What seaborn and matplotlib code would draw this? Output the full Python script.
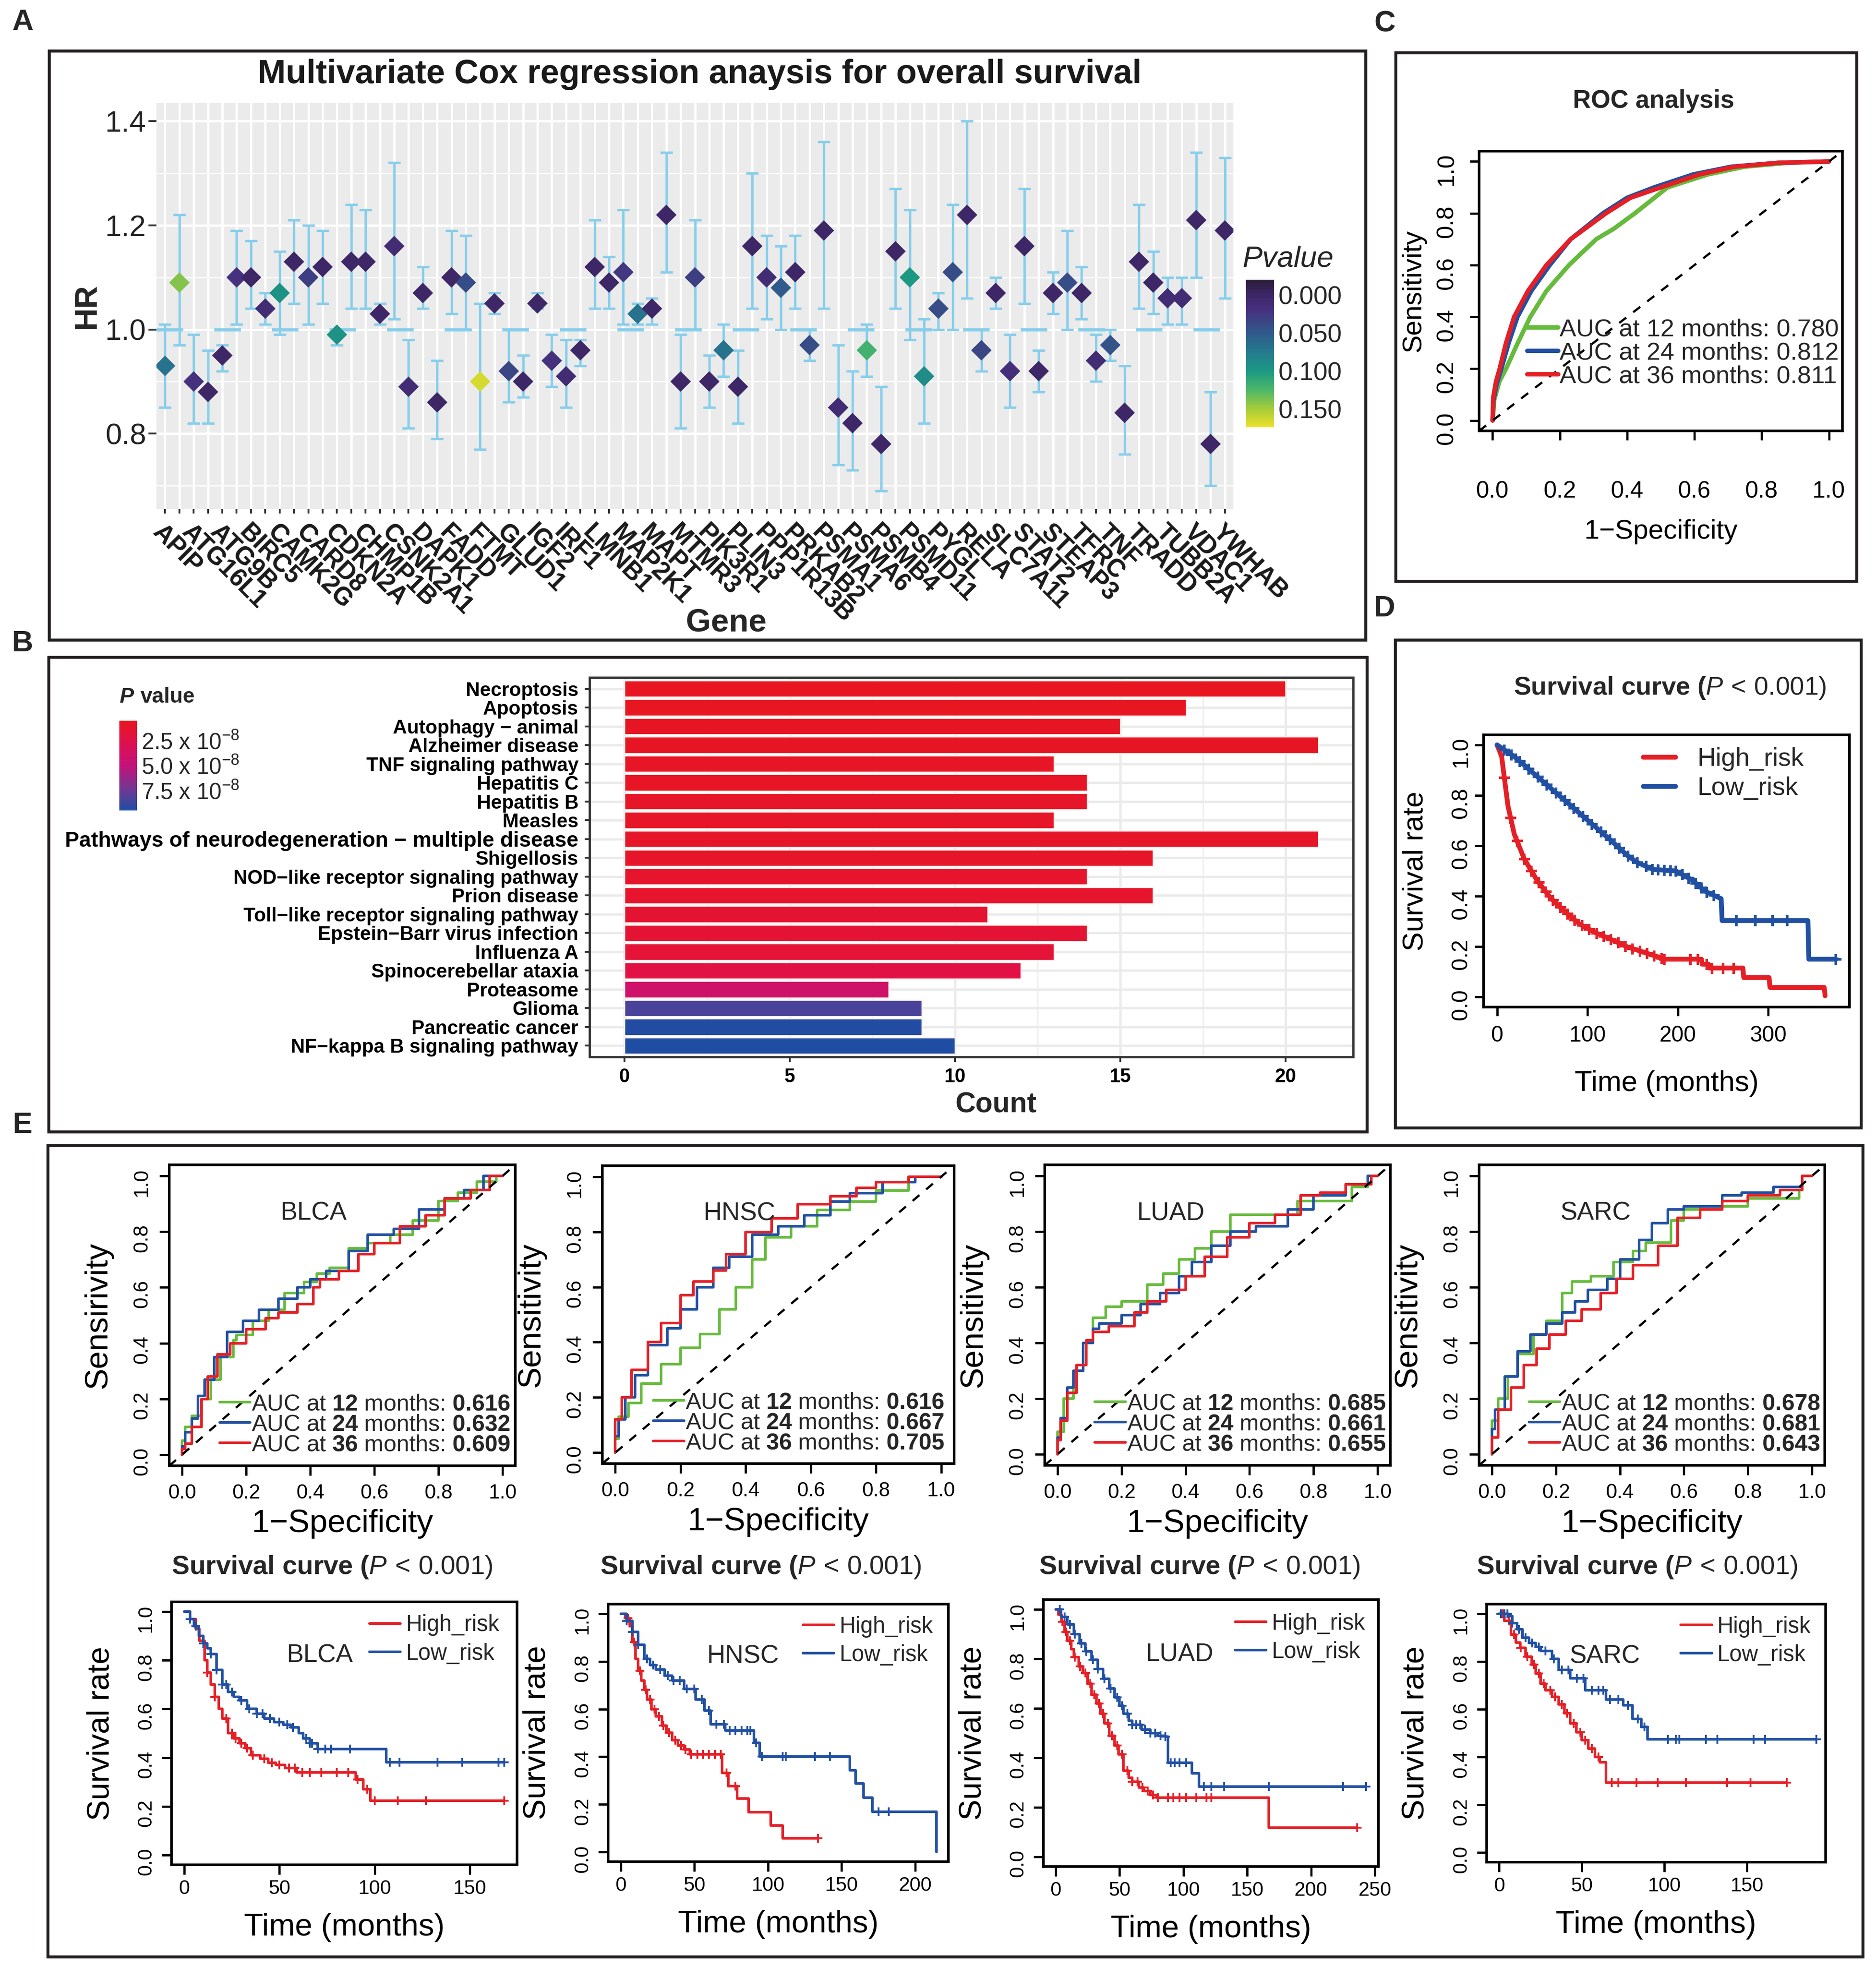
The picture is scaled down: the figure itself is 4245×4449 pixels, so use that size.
import numpy as np
import matplotlib
matplotlib.use("Agg")
import matplotlib.pyplot as plt
import seaborn as sns
from matplotlib.colors import LinearSegmentedColormap, Normalize
from matplotlib.cm import ScalarMappable
from matplotlib.patches import Rectangle

sns.set_theme(style="white")
plt.rcParams["font.family"] = ["Liberation Sans", "DejaVu Sans"]
plt.rcParams["mathtext.fontset"] = "custom"
plt.rcParams["mathtext.rm"] = "Liberation Sans"
plt.rcParams["mathtext.it"] = "Liberation Sans:italic"
plt.rcParams["mathtext.bf"] = "Liberation Sans:bold"
plt.rcParams["axes.unicode_minus"] = False

W, H, DPI = 4245, 4449, 300
PT = 72 / DPI  # points per pixel

# ---------------- A: multivariate Cox ----------------
gene_labels = ["APIP", "ATG16L1", "ATG9B", "BIRC5", "CAMK2G", "CARD8", "CDKN2A", "CHMP1B",
               "CSNK2A1", "DAPK1", "FADD", "FTMT", "GLUD1", "IGF2", "IRF1", "LMNB1", "MAP2K1",
               "MAPT", "MTMR3", "PIK3R1", "PLIN3", "PPP1R13B", "PRKAB2", "PSMA1", "PSMA6",
               "PSMB4", "PSMD11", "PYGL", "RELA", "SLC7A11", "STAT2", "STEAP3", "TFRC", "TNF",
               "TRADD", "TUBB2A", "VDAC1", "YWHAB"]
hr = [0.93, 1.09, 0.90, 0.88, 0.95, 1.10, 1.10, 1.04, 1.07, 1.13,
      1.10, 1.12, 0.99, 1.13, 1.13, 1.03, 1.16, 0.89, 1.07, 0.86,
      1.10, 1.09, 0.90, 1.05, 0.92, 0.90, 1.05, 0.94, 0.91, 0.96,
      1.12, 1.09, 1.11, 1.03, 1.04, 1.22, 0.90, 1.10, 0.90, 0.96,
      0.89, 1.16, 1.10, 1.08, 1.11, 0.97, 1.19, 0.85, 0.82, 0.96,
      0.78, 1.15, 1.10, 0.91, 1.04, 1.11, 1.22, 0.96, 1.07, 0.92,
      1.16, 0.92, 1.07, 1.09, 1.07, 0.94, 0.97, 0.84, 1.13, 1.09,
      1.06, 1.06, 1.21, 0.78, 1.19]
hr_low = [0.85, 0.97, 0.82, 0.82, 0.92, 1.01, 1.04, 1.01, 0.99, 1.05,
          1.01, 1.05, 0.97, 1.04, 1.04, 1.01, 1.02, 0.81, 1.04, 0.79,
          1.03, 1.00, 0.77, 1.03, 0.86, 0.87, 1.04, 0.89, 0.85, 0.93,
          1.04, 1.04, 1.01, 1.01, 1.01, 1.11, 0.81, 1.00, 0.85, 0.91,
          0.82, 1.04, 1.02, 1.00, 1.04, 0.94, 1.04, 0.74, 0.73, 0.91,
          0.69, 1.04, 0.98, 0.82, 1.00, 1.00, 1.06, 0.92, 1.04, 0.85,
          1.05, 0.88, 1.03, 1.00, 1.02, 0.90, 0.94, 0.76, 1.04, 1.03,
          1.01, 1.01, 1.10, 0.70, 1.06]
hr_high = [1.01, 1.22, 0.99, 0.96, 0.97, 1.19, 1.17, 1.07, 1.15, 1.21,
           1.20, 1.19, 1.00, 1.24, 1.23, 1.05, 1.32, 0.98, 1.12, 0.94,
           1.19, 1.18, 1.05, 1.07, 1.00, 0.95, 1.07, 0.99, 0.98, 0.98,
           1.21, 1.14, 1.23, 1.05, 1.06, 1.34, 0.99, 1.21, 0.95, 1.01,
           0.96, 1.30, 1.18, 1.16, 1.18, 1.00, 1.36, 0.97, 0.92, 1.01,
           0.89, 1.27, 1.23, 1.02, 1.07, 1.24, 1.40, 1.00, 1.10, 0.99,
           1.27, 0.96, 1.11, 1.19, 1.12, 0.99, 1.00, 0.93, 1.24, 1.15,
           1.10, 1.10, 1.34, 0.88, 1.33]
pval_a = [0.07, 0.14, 0.02, 0.0, 0.0, 0.02, 0.0, 0.01, 0.095, 0.0,
          0.03, 0.0, 0.095, 0.0, 0.0, 0.0, 0.01, 0.01, 0.0, 0.0,
          0.0, 0.04, 0.165, 0.0, 0.035, 0.0, 0.0, 0.02, 0.01, 0.0,
          0.0, 0.0, 0.025, 0.07, 0.0, 0.0, 0.0, 0.03, 0.0, 0.07,
          0.0, 0.0, 0.01, 0.05, 0.0, 0.04, 0.0, 0.01, 0.0, 0.12,
          0.0, 0.0, 0.10, 0.09, 0.04, 0.04, 0.0, 0.035, 0.0, 0.015,
          0.0, 0.0, 0.0, 0.04, 0.0, 0.01, 0.045, 0.0, 0.0, 0.0,
          0.01, 0.01, 0.0, 0.0, 0.0]

# ---------------- B: KEGG enrichment ----------------
pathways = ["Necroptosis", "Apoptosis", "Autophagy \u2212 animal", "Alzheimer disease",
            "TNF signaling pathway", "Hepatitis C", "Hepatitis B", "Measles",
            "Pathways of neurodegeneration \u2212 multiple disease", "Shigellosis",
            "NOD\u2212like receptor signaling pathway", "Prion disease",
            "Toll\u2212like receptor signaling pathway", "Epstein\u2212Barr virus infection",
            "Influenza A", "Spinocerebellar ataxia", "Proteasome", "Glioma",
            "Pancreatic cancer", "NF\u2212kappa B signaling pathway"]
counts = [20, 17, 15, 21, 13, 14, 14, 13, 21, 16, 14, 16, 11, 14, 13, 12, 8, 9, 9, 10]
pval_b = [0.6e-8, 0.6e-8, 0.7e-8, 0.7e-8, 0.8e-8, 0.8e-8, 0.9e-8, 0.9e-8, 1.0e-8, 1.0e-8,
          1.1e-8, 1.1e-8, 1.4e-8, 1.5e-8, 1.6e-8, 2.3e-8, 4.1e-8, 8.4e-8, 9.4e-8, 9.5e-8]

# ---------------- C: overall ROC ----------------
months = [12, 24, 36]
c_auc = ["0.780", "0.812", "0.811"]
c_fpr = [[0, 0.005, 0.02, 0.04, 0.075, 0.112, 0.16, 0.227, 0.308, 0.36, 0.423, 0.52, 0.64, 0.75, 0.88, 1.0],
         [0, 0.003, 0.012, 0.026, 0.048, 0.074, 0.115, 0.17, 0.232, 0.328, 0.40, 0.48, 0.596, 0.71, 0.85, 1.0],
         [0, 0.002, 0.01, 0.021, 0.04, 0.064, 0.105, 0.16, 0.232, 0.337, 0.41, 0.50, 0.615, 0.72, 0.85, 1.0]]
c_tpr = [[0, 0.08, 0.15, 0.2, 0.3, 0.4, 0.5, 0.6, 0.7, 0.74, 0.8, 0.9, 0.95, 0.98, 0.995, 1.0],
         [0, 0.08, 0.14, 0.2, 0.3, 0.4, 0.5, 0.6, 0.7, 0.8, 0.86, 0.9, 0.95, 0.98, 0.995, 1.0],
         [0, 0.09, 0.15, 0.2, 0.3, 0.4, 0.5, 0.6, 0.7, 0.8, 0.86, 0.9, 0.95, 0.98, 0.995, 1.0]]

# ---------------- D: overall survival ----------------
d_high_t = [0, 5, 12, 19, 30, 44, 59, 73, 91, 109, 127, 144, 162, 180, 184, 226, 227, 234, 235,
            272, 273, 301, 302, 362, 363]
d_high_s = [1.0, 0.954, 0.758, 0.646, 0.548, 0.464, 0.394, 0.345, 0.29, 0.255, 0.227, 0.199,
            0.178, 0.157, 0.15, 0.15, 0.13, 0.13, 0.115, 0.115, 0.077, 0.077, 0.038, 0.038, 0.005]
d_low_t = [0, 19, 37, 55, 73, 91, 109, 127, 144, 155, 173, 198, 216, 230, 248, 249, 344, 345, 375]
d_low_s = [1.0, 0.954, 0.898, 0.842, 0.786, 0.73, 0.674, 0.618, 0.562, 0.534, 0.506, 0.50,
           0.464, 0.42, 0.39, 0.303, 0.303, 0.15, 0.15]
d_high_cens = [8, 15, 22, 30, 38, 46, 54, 62, 70, 78, 86, 94, 102, 110, 118, 126, 134, 142, 150,
               158, 166, 174, 182, 185, 214, 222, 232, 238, 250, 262]
d_low_cens = [8, 16, 25, 35, 45, 55, 65, 75, 85, 95, 105, 115, 125, 135, 145, 155, 165, 172, 178,
              185, 192, 198, 205, 212, 220, 226, 232, 240, 265, 286, 305, 321, 375]

# ---------------- E: cohorts ----------------
cohorts = ["BLCA", "HNSC", "LUAD", "SARC"]
e_ylab = ["Sensirivity", "Sensitivity", "Sensitivity", "Sensitivity"]
e_auc = [["0.616", "0.632", "0.609"], ["0.616", "0.667", "0.705"],
         ["0.685", "0.661", "0.655"], ["0.678", "0.681", "0.643"]]
e_fpr = [
    [[0, 0.01, 0.03, 0.06, 0.09, 0.12, 0.16, 0.17, 0.22, 0.27, 0.32, 0.38, 0.42, 0.46, 0.52, 0.58, 0.65, 0.72, 0.80, 0.86, 0.92, 0.98, 1.0],
     [0, 0.01, 0.03, 0.05, 0.07, 0.10, 0.14, 0.19, 0.24, 0.30, 0.36, 0.40, 0.45, 0.52, 0.58, 0.66, 0.74, 0.82, 0.88, 0.94, 0.96, 1.0],
     [0, 0.01, 0.03, 0.06, 0.08, 0.11, 0.15, 0.20, 0.26, 0.30, 0.36, 0.41, 0.43, 0.49, 0.55, 0.60, 0.68, 0.76, 0.82, 0.90, 0.96, 0.97, 1.0]],
    [[0, 0.01, 0.04, 0.08, 0.14, 0.20, 0.26, 0.32, 0.37, 0.42, 0.46, 0.54, 0.62, 0.72, 0.80, 0.90, 1.0],
     [0, 0.01, 0.03, 0.06, 0.10, 0.16, 0.20, 0.25, 0.30, 0.35, 0.42, 0.50, 0.58, 0.66, 0.72, 0.82, 0.92, 1.0],
     [0, 0.0, 0.02, 0.05, 0.10, 0.14, 0.20, 0.24, 0.30, 0.34, 0.40, 0.48, 0.56, 0.66, 0.74, 0.80, 0.90, 1.0]],
    [[0, 0.02, 0.05, 0.08, 0.11, 0.15, 0.20, 0.28, 0.33, 0.38, 0.43, 0.48, 0.54, 0.60, 0.75, 0.83, 0.92, 0.97, 1.0],
     [0, 0.01, 0.03, 0.05, 0.08, 0.11, 0.13, 0.20, 0.26, 0.32, 0.38, 0.42, 0.48, 0.54, 0.62, 0.72, 0.80, 0.90, 0.97, 1.0],
     [0, 0.01, 0.03, 0.06, 0.09, 0.11, 0.16, 0.24, 0.28, 0.34, 0.40, 0.46, 0.53, 0.60, 0.68, 0.76, 0.82, 0.90, 0.98, 1.0]],
    [[0, 0.02, 0.05, 0.08, 0.13, 0.17, 0.22, 0.25, 0.31, 0.38, 0.44, 0.48, 0.56, 0.60, 0.65, 0.80, 0.85, 0.96, 0.97, 1.0],
     [0, 0.01, 0.04, 0.08, 0.12, 0.17, 0.22, 0.26, 0.30, 0.36, 0.40, 0.46, 0.50, 0.55, 0.60, 0.72, 0.78, 0.88, 0.97, 1.0],
     [0, 0.02, 0.06, 0.10, 0.14, 0.18, 0.23, 0.28, 0.34, 0.39, 0.44, 0.52, 0.58, 0.65, 0.72, 0.80, 0.90, 0.97, 1.0]],
]
e_tpr = [
    [[0, 0.05, 0.10, 0.14, 0.20, 0.27, 0.35, 0.41, 0.43, 0.48, 0.52, 0.58, 0.62, 0.65, 0.67, 0.74, 0.76, 0.79, 0.84, 0.91, 0.94, 0.98, 1.0],
     [0, 0.03, 0.08, 0.13, 0.21, 0.27, 0.35, 0.44, 0.48, 0.52, 0.56, 0.60, 0.63, 0.66, 0.73, 0.79, 0.81, 0.88, 0.92, 0.95, 1.0, 1.0],
     [0, 0.02, 0.04, 0.10, 0.20, 0.28, 0.36, 0.40, 0.45, 0.49, 0.51, 0.54, 0.60, 0.63, 0.66, 0.72, 0.76, 0.82, 0.86, 0.92, 0.95, 1.0, 1.0]],
    [[0, 0.05, 0.13, 0.18, 0.25, 0.32, 0.38, 0.43, 0.52, 0.60, 0.70, 0.78, 0.82, 0.88, 0.91, 0.95, 1.0],
     [0, 0.06, 0.12, 0.20, 0.28, 0.39, 0.45, 0.52, 0.60, 0.67, 0.71, 0.79, 0.82, 0.86, 0.91, 0.94, 0.98, 1.0],
     [0, 0.05, 0.12, 0.20, 0.30, 0.40, 0.47, 0.57, 0.62, 0.66, 0.72, 0.80, 0.85, 0.90, 0.93, 0.96, 0.98, 1.0]],
    [[0, 0.08, 0.20, 0.30, 0.40, 0.49, 0.53, 0.55, 0.61, 0.65, 0.70, 0.74, 0.80, 0.86, 0.86, 0.91, 0.91, 0.96, 1.0],
     [0, 0.06, 0.13, 0.24, 0.30, 0.40, 0.45, 0.47, 0.50, 0.54, 0.58, 0.64, 0.69, 0.75, 0.80, 0.82, 0.88, 0.93, 0.97, 1.0],
     [0, 0.05, 0.12, 0.22, 0.32, 0.41, 0.44, 0.46, 0.51, 0.55, 0.59, 0.64, 0.71, 0.78, 0.83, 0.86, 0.93, 0.94, 0.97, 1.0]],
    [[0, 0.12, 0.20, 0.28, 0.36, 0.43, 0.48, 0.58, 0.62, 0.64, 0.69, 0.73, 0.76, 0.84, 0.88, 0.89, 0.92, 0.92, 0.95, 1.0],
     [0, 0.09, 0.16, 0.28, 0.37, 0.43, 0.47, 0.51, 0.55, 0.59, 0.63, 0.70, 0.77, 0.83, 0.88, 0.89, 0.93, 0.94, 0.96, 1.0],
     [0, 0.06, 0.16, 0.24, 0.32, 0.38, 0.43, 0.48, 0.52, 0.58, 0.63, 0.68, 0.75, 0.85, 0.88, 0.91, 0.93, 0.95, 1.0]],
]

surv_high_t = [
    [0, 3, 6, 8, 10.7, 12, 14, 16, 18, 20, 23, 26, 29, 32, 35, 40, 44, 48, 53, 59, 90, 94, 97.6, 168],
    [0, 3, 6, 8, 10, 12, 14, 16, 18, 21, 24, 28, 31, 35, 39, 43, 47, 69, 73, 79, 87, 102, 110, 134],
    [0, 2, 4.6, 7, 9, 12, 14, 18, 21, 25, 28, 32, 35, 38, 42, 46, 49, 53, 57, 60, 65, 69, 74, 79, 167, 236],
    [0, 3, 7, 10, 12.6, 16, 19.7, 22, 25, 28, 32, 36, 39.5, 43, 46.7, 50, 53.8, 58, 61, 64.6, 174],
]
surv_high_s = [
    [1.0, 0.97, 0.93, 0.88, 0.80, 0.75, 0.70, 0.65, 0.60, 0.56, 0.50, 0.48, 0.46, 0.44, 0.41, 0.395, 0.38, 0.37, 0.357, 0.339, 0.31, 0.27, 0.223, 0.223],
    [1.0, 0.98, 0.947, 0.88, 0.81, 0.76, 0.72, 0.68, 0.64, 0.60, 0.57, 0.53, 0.50, 0.47, 0.447, 0.43, 0.41, 0.333, 0.276, 0.225, 0.168, 0.111, 0.058, 0.058],
    [1.0, 0.98, 0.95, 0.91, 0.874, 0.84, 0.808, 0.77, 0.743, 0.70, 0.655, 0.62, 0.578, 0.54, 0.49, 0.45, 0.414, 0.348, 0.32, 0.304, 0.28, 0.266, 0.25, 0.239, 0.118, 0.118],
    [1.0, 0.97, 0.912, 0.88, 0.856, 0.82, 0.787, 0.75, 0.708, 0.68, 0.651, 0.62, 0.583, 0.54, 0.503, 0.47, 0.435, 0.40, 0.378, 0.293, 0.293],
]
surv_low_t = [
    [0, 3, 5, 7.6, 10, 12, 14, 17, 20, 23, 26, 29, 33, 38, 42, 47, 52, 56, 60, 62.5, 66, 70, 106, 168],
    [0, 4, 8, 12, 16, 20, 24, 30, 35, 43, 51, 57, 61, 71, 90.5, 94.5, 155.5, 159.5, 165, 171, 214.6],
    [0, 4, 9, 14, 18.5, 23, 28, 33, 37, 42, 46, 50, 53, 57, 60, 67, 74, 80, 86, 88, 106.5, 112, 243],
    [0, 5.4, 8, 10.8, 14, 18, 22, 25, 32, 36, 43, 52, 64.6, 75, 80.8, 86, 89.7, 192],
]
surv_low_s = [
    [1.0, 0.97, 0.94, 0.90, 0.87, 0.85, 0.825, 0.76, 0.70, 0.67, 0.65, 0.635, 0.60, 0.58, 0.56, 0.546, 0.535, 0.524, 0.50, 0.48, 0.46, 0.436, 0.381, 0.381],
    [1.0, 0.97, 0.924, 0.87, 0.81, 0.785, 0.765, 0.74, 0.72, 0.685, 0.64, 0.594, 0.537, 0.51, 0.458, 0.40, 0.344, 0.287, 0.228, 0.17, 0.0],
    [1.0, 0.97, 0.94, 0.90, 0.863, 0.83, 0.797, 0.76, 0.72, 0.68, 0.644, 0.61, 0.578, 0.55, 0.534, 0.515, 0.50, 0.49, 0.485, 0.381, 0.337, 0.283, 0.283],
    [1.0, 0.99, 0.96, 0.935, 0.90, 0.878, 0.86, 0.844, 0.81, 0.765, 0.73, 0.68, 0.64, 0.617, 0.56, 0.526, 0.475, 0.475],
]
cens_high = [
    [12, 16, 22, 25, 27, 30, 33, 36, 42, 46, 50, 55, 58, 62, 66, 72, 80, 86, 91, 96, 100, 112, 127, 168],
    [5, 9, 13, 17, 20, 23, 26, 29, 33, 37, 41, 44, 48, 52, 56, 60, 64, 68, 72, 78, 134],
    [5, 8, 11, 15, 19, 23, 27, 30, 34, 37, 41, 44, 48, 52, 56, 60, 64, 68, 72, 76, 80, 88, 92, 97, 102, 110, 118, 122, 236],
    [2, 6, 9, 13, 17, 21, 24, 27, 31, 34, 38, 41, 45, 49, 52, 56, 60, 68, 72, 83, 96, 113, 138, 152, 174],
]
cens_low = [
    [3, 6, 10, 14, 17, 20, 22, 25, 30, 34, 38, 41, 45, 50, 54, 57, 64, 66, 67, 70, 74, 77, 87, 108, 113, 133, 146, 165, 168],
    [4, 8, 12, 18, 22, 27, 32, 36, 40, 45, 50, 55, 60, 65, 70, 74, 78, 82, 86, 88, 92, 96, 110, 112, 132, 142, 175, 182],
    [3, 7, 11, 15, 20, 24, 29, 33, 38, 43, 48, 52, 56, 60, 63, 66, 70, 74, 78, 82, 86, 90, 93, 97, 102, 116, 122, 132, 167, 225, 243],
    [1, 3, 5, 8, 12, 16, 20, 24, 28, 33, 38, 42, 47, 51, 56, 60, 63, 67, 72, 78, 84, 88, 102, 107, 109, 125, 132, 154, 161, 192],
]
surv_xmax = [168, 214, 243, 190]
surv_xticks = [[0, 50, 100, 150], [0, 50, 100, 150, 200], [0, 50, 100, 150, 200, 250], [0, 50, 100, 150]]

# ---------------- styling ----------------
GREEN, BLUE, RED = "#66BB3C", "#2150A3", "#E51F26"
roc_colors = [GREEN, BLUE, RED]
cmap_a = LinearSegmentedColormap.from_list(
    "pv", [(0.0, "#2A1C38"), (0.103, "#3E2767"), (0.2, "#46307E"), (0.36, "#305A8B"),
           (0.49, "#247A8E"), (0.619, "#1C9883"), (0.75, "#4EB869"), (0.876, "#A6CC3A"),
           (1.0, "#EEE12B")])
norm_a = Normalize(-0.02, 0.174)
cmap_b = LinearSegmentedColormap.from_list(
    "pb", [(0.0, "#E8161F"), (0.22, "#E0104A"), (0.5, "#C4127A"), (0.78, "#6C3A94"),
           (1.0, "#1E4DA3")])
norm_b = Normalize(0.5e-8, 9.5e-8)
SURV_TITLE = r"$\mathbf{Survival\ curve\ (}\mathit{P}\mathrm{\,<\,0.001)}$"


def fbox(l, t, r, b):
    return [l / W, 1 - b / H, (r - l) / W, (b - t) / H]


def ftext(x, y, s, **kw):
    fig.text(x / W, 1 - y / H, s, **kw)


def frame(l, t, r, b):
    fig.patches.append(Rectangle((l / W, 1 - b / H), (r - l) / W, (b - t) / H, fill=False,
                                 lw=1.6, ec="#231F20", transform=fig.transFigure))


def r_axes(ax, box, xlim, ylim, xticks, yticks, xfmt, yfmt, fs, ticklen, xpad, ypad):
    ax.set_facecolor("white")
    for s in ax.spines.values():
        s.set_visible(True)
        s.set_color("black")
        s.set_linewidth(1.4)
    ax.set_xlim(*xlim)
    ax.set_ylim(*ylim)
    ax.set_xticks(xticks)
    ax.set_xticklabels([xfmt.format(v) for v in xticks])
    ax.set_yticks(yticks)
    ax.set_yticklabels([yfmt.format(v) for v in yticks])
    ax.tick_params(axis="both", direction="out", length=ticklen * PT, width=1.2, color="black",
                   labelsize=fs, labelcolor="black", bottom=True, left=True)
    ax.tick_params(axis="x", pad=xpad * PT)
    ax.tick_params(axis="y", pad=ypad * PT, labelrotation=90)
    ax.grid(False)


def r_labels(ax, box, xlabel, ylabel, fs, xdist, ydist):
    w, h = box[2] - box[0], box[3] - box[1]
    ax.set_xlabel(xlabel, fontsize=fs, color="black")
    ax.set_ylabel(ylabel, fontsize=fs, color="black")
    ax.xaxis.label.set_va("center")
    ax.yaxis.label.set_va("center")
    ax.xaxis.set_label_coords(0.5, -xdist / h)
    ax.yaxis.set_label_coords(-ydist / w, 0.5)


fig = plt.figure(figsize=(W / DPI, H / DPI), dpi=DPI)
fig.patch.set_facecolor("white")

# panel frames and letters
frame(111, 115, 3090, 1448)
frame(110, 1487, 3093, 2561)
frame(3158, 119, 4201, 1315)
frame(3157, 1448, 4211, 2552)
frame(108, 2592, 4215, 4428)
for letter, (x, y) in zip("ABCDE", [(51, 51), (51, 1457), (3133, 55), (3133, 1378), (51, 2547)]):
    ftext(x, y, letter, fontsize=16, fontweight="bold", ha="center", va="center")

# ================= A =================
boxA = (354, 233, 2791, 1152)
axA = fig.add_axes(fbox(*boxA))
axA.set_facecolor("#EBEBEB")
pos = np.arange(len(hr))
hr_arr, lo_arr, hi_arr = np.array(hr), np.array(hr_low), np.array(hr_high)
axA.set_xticks(pos)
axA.set_xticklabels([gene_labels[i // 2] if i % 2 == 0 else "" for i in pos],
                    rotation=-45, ha="left", rotation_mode="anchor",
                    fontsize=13.6, fontweight="bold", color="#1A1A1A")
axA.set_yticks([0.8, 1.0, 1.2, 1.4])
axA.set_yticklabels(["0.8", "1.0", "1.2", "1.4"], fontsize=16, color="#222222")
axA.set_yticks([0.7, 0.9, 1.1, 1.3], minor=True)
axA.grid(which="major", color="white", lw=1.2)
axA.grid(which="minor", axis="y", color="white", lw=0.6)
axA.set_axisbelow(True)
axA.tick_params(axis="x", which="major", bottom=True, length=10 * PT, width=1.0, color="#333333", pad=15 * PT)
axA.tick_params(axis="y", which="major", left=True, length=18 * PT, width=1.0, color="#333333", pad=5 * PT)
axA.tick_params(which="minor", length=0)
for s in axA.spines.values():
    s.set_visible(False)
axA.axhline(1.0, color="#87CEEB", lw=1.7, linestyle=(0, (8.5, 9.9)), zorder=1)
axA.errorbar(pos, hr_arr, yerr=[hr_arr - lo_arr, hi_arr - hr_arr], fmt="none", ecolor="#87CEEB",
             elinewidth=1.3, capsize=3.4, capthick=1.3, zorder=2)
sns.scatterplot(x=pos, y=hr_arr, hue=pval_a, palette=cmap_a, hue_norm=norm_a, marker="D", s=62,
                linewidth=0, legend=False, ax=axA, zorder=3)
axA.set_xlim(-0.6, len(hr) - 0.4)
axA.set_ylim(0.655, 1.435)
axA.set_xlabel("Gene", fontsize=17.5, fontweight="bold")
axA.set_ylabel("HR", fontsize=17, fontweight="bold")
axA.xaxis.label.set_va("center")
axA.yaxis.label.set_va("center")
axA.xaxis.set_label_coords((1643 - 354) / (2791 - 354), -(1409 - 1152) / (1152 - 233))
axA.yaxis.set_label_coords(-(354 - 197) / (2791 - 354), 0.5)
ftext(1583, 169, "Multivariate Cox regression anaysis for overall survival", fontsize=18.3,
      fontweight="bold", ha="center", va="center", color="#1A1A1A")

caxA = fig.add_axes(fbox(2819, 633, 2883, 967))
cbA = fig.colorbar(ScalarMappable(norm=norm_a, cmap=cmap_a), cax=caxA)
cbA.outline.set_visible(False)
caxA.invert_yaxis()
cbA.set_ticks([0.0, 0.05, 0.10, 0.15])
cbA.set_ticklabels(["0.000", "0.050", "0.100", "0.150"])
caxA.tick_params(axis="y", direction="in", length=12 * PT, width=1.2, color="white", left=True,
                 right=True, labelleft=False, labelright=True, labelsize=13.8, pad=10 * PT)
ftext(2812, 587, "Pvalue", fontsize=16.2, style="italic", ha="left", va="center")

# ================= B =================
boxB = (1334, 1533, 3062, 2392)
axB = fig.add_axes(fbox(*boxB))
bar_colors = [cmap_b(norm_b(p)) for p in pval_b]
sns.barplot(x=counts, y=pathways, hue=pathways, palette=bar_colors, orient="h", width=0.88,
            saturation=1, edgecolor="#FFF3EE", linewidth=0.6, legend=False, ax=axB, zorder=2)
axB.set_xlim(-1.05, 22.05)
axB.set_ylim(len(pathways) - 0.4, -0.6)
axB.set_xticks([0, 5, 10, 15, 20])
axB.set_xticks([2.5, 7.5, 12.5, 17.5], minor=True)
axB.grid(which="major", color="#EBEBEB", lw=1.3)
axB.grid(which="minor", axis="x", color="#EBEBEB", lw=0.6)
axB.set_axisbelow(True)
for s in axB.spines.values():
    s.set_visible(True)
    s.set_color("#333333")
    s.set_linewidth(1.2)
axB.tick_params(axis="both", which="major", length=11 * PT, width=1.0, color="#333333",
                bottom=True, left=True)
axB.tick_params(which="minor", length=0)
axB.tick_params(axis="y", pad=14 * PT)
axB.tick_params(axis="x", pad=14 * PT)
for t in axB.get_yticklabels():
    t.set_fontsize(11.6 if t.get_text().startswith("Pathways") else 10.6)
    t.set_fontweight("bold")
    t.set_color("black")
for t in axB.get_xticklabels():
    t.set_fontsize(10.5)
    t.set_fontweight("bold")
    t.set_color("black")
axB.set_ylabel("")
axB.set_xlabel("Count", fontsize=15.3, fontweight="bold")
axB.xaxis.label.set_va("center")
axB.xaxis.set_label_coords((2253 - 1334) / (3062 - 1334), -(2501 - 2392) / (2392 - 1533))

caxB = fig.add_axes(fbox(270, 1631, 310, 1834))
cbB = fig.colorbar(ScalarMappable(norm=norm_b, cmap=cmap_b), cax=caxB)
cbB.outline.set_visible(False)
caxB.invert_yaxis()
cbB.set_ticks([2.5e-8, 5.0e-8, 7.5e-8])
cbB.set_ticklabels([r"2.5 x 10$^{-8}$", r"5.0 x 10$^{-8}$", r"7.5 x 10$^{-8}$"])
caxB.tick_params(axis="y", direction="in", length=8 * PT, width=1.0, color="white", left=True,
                 right=True, labelleft=False, labelright=True, labelsize=12.2, pad=10 * PT)
ftext(270, 1578, "P", fontsize=11.6, fontweight="bold", style="italic", ha="left", va="center")
ftext(318, 1578, "value", fontsize=11.6, fontweight="bold", ha="left", va="center")

# ================= C =================
boxC = (3347, 342, 4169, 975)
axC = fig.add_axes(fbox(*boxC))
handles = []
for k in range(3):
    sns.lineplot(x=c_fpr[k], y=c_tpr[k], color=roc_colors[k], lw=2.4, estimator=None, sort=False,
                 ax=axC)
    handles.append(axC.lines[-1])
axC.axline((0, 0), (1, 1), color="black", lw=1.2, linestyle=(0, (4, 4)))
ticks01 = [0, 0.2, 0.4, 0.6, 0.8, 1.0]
r_axes(axC, boxC, (-0.04, 1.04), (-0.04, 1.04), ticks01, ticks01, "{:.1f}", "{:.1f}", 12.8,
       21, 92, 28)
r_labels(axC, boxC, "1\u2212Specificity", "Sensitivity", 14.8, 229, 148)
axC.legend(handles, ["AUC at {} months: {}".format(m, a) for m, a in zip(months, c_auc)],
           loc="center left", bbox_to_anchor=(0.133, 0.277), frameon=False, fontsize=13.5,
           handlelength=1.24, handletextpad=0.05, labelspacing=0.02, borderpad=0,
           borderaxespad=0)
ftext(3742, 229, "ROC analysis", fontsize=13.6, fontweight="bold", ha="center", va="center")


def surv_curve(ax, t, s, cens, color, lw, ms, mew, steps=True):
    t, s = np.asarray(t, float), np.asarray(s, float)
    if steps:
        sns.lineplot(x=t, y=s, color=color, lw=lw, drawstyle="steps-post", estimator=None,
                     sort=False, ax=ax)
        cs = s[np.searchsorted(t, cens, side="right") - 1]
    else:
        sns.lineplot(x=t, y=s, color=color, lw=lw, estimator=None, sort=False, ax=ax)
        cs = np.interp(cens, t, s)
    line = ax.lines[-1]
    ax.plot(cens, cs, ls="none", marker="+", ms=ms, mew=mew, color=color)
    return line


# ================= D =================
boxD = (3357, 1663, 4185, 2279)
axD = fig.add_axes(fbox(*boxD))
hD = surv_curve(axD, d_high_t, d_high_s, d_high_cens, RED, 2.6, 6, 1.4, steps=False)
lD = surv_curve(axD, d_low_t, d_low_s, d_low_cens, BLUE, 2.6, 6, 1.4, steps=False)
r_axes(axD, boxD, (-15, 390), (-0.04, 1.04), [0, 100, 200, 300], ticks01, "{:d}", "{:.1f}", 12,
       20, 22, 8)
r_labels(axD, boxD, "Time (months)", "Survival rate", 15.6, 173, 155)
axD.legend([hD, lD], ["High_risk", "Low_risk"], loc="center left", bbox_to_anchor=(0.4355, 0.857),
           frameon=False, fontsize=13.9, handlelength=1.26, handletextpad=0.86, labelspacing=0.2,
           borderpad=0, borderaxespad=0)
ftext(3779, 1557, SURV_TITLE, fontsize=14, ha="center", va="center")

# ================= E =================
roc_boxes = [(383, 2636, 1166, 3317), (1363, 2638, 2159, 3312), (2364, 2636, 3146, 3316),
             (3347, 2636, 4129, 3316)]
surv_boxes = [(388, 3625, 1170, 4220), (1376, 3630, 2146, 4213), (2361, 3620, 3119, 4224),
              (3364, 3630, 4131, 4214)]
roc_name_x = [0.41, 0.38, 0.353, 0.324]
title_x = [751, 1721, 2714, 3704]
surv_name_x = [71, 83, 97, 64]

for i, name in enumerate(cohorts):
    box = roc_boxes[i]
    ax = fig.add_axes(fbox(*box))
    handles = []
    for k in range(3):
        sns.lineplot(x=e_fpr[i][k], y=e_tpr[i][k], color=roc_colors[k], lw=1.4,
                     drawstyle="steps-pre", estimator=None, sort=False, ax=ax)
        handles.append(ax.lines[-1])
    ax.axline((0, 0), (1, 1), color="black", lw=1.2, linestyle=(0, (4, 4)))
    r_axes(ax, box, (-0.04, 1.04), (-0.04, 1.04), ticks01, ticks01, "{:.1f}", "{:.1f}", 11,
           22, 18, 18)
    r_labels(ax, box, "1\u2212Specificity", e_ylab[i], 17.5, 132, 161)
    ax.text(roc_name_x[i], 0.866, name, fontsize=13.8, ha="center", va="center")
    ax.legend(handles, [r"AUC at $\mathbf{%d}$ months: $\mathbf{%s}$" % (m, a)
                        for m, a in zip(months, e_auc[i])],
              loc="center left", bbox_to_anchor=(0.145, 0.137), frameon=False, fontsize=12.5,
              handlelength=1.34, handletextpad=0.05, labelspacing=-0.06, borderpad=0,
              borderaxespad=0)

    box = surv_boxes[i]
    ax = fig.add_axes(fbox(*box))
    hh = surv_curve(ax, surv_high_t[i], surv_high_s[i], cens_high[i], RED, 1.4, 5, 1.0)
    hl = surv_curve(ax, surv_low_t[i], surv_low_s[i], cens_low[i], BLUE, 1.4, 5, 1.0)
    pad_x = 0.04 * surv_xmax[i]
    r_axes(ax, box, (-pad_x, surv_xmax[i] + pad_x), (-0.04, 1.04), surv_xticks[i], ticks01,
           "{:d}", "{:.1f}", 10.8, 22, 12, 15)
    r_labels(ax, box, "Time (months)", "Survival rate", 17, 142, 160)
    ax.text(surv_name_x[i], 0.82, name, fontsize=13.8, ha="center", va="center")
    ax.legend([hh, hl], ["High_risk", "Low_risk"], loc="center left",
              bbox_to_anchor=(0.573, 0.857), frameon=False, fontsize=12.2, handlelength=1.38,
              handletextpad=0.25, labelspacing=0.3, borderpad=0, borderaxespad=0)
    ftext(title_x[i], 3547, SURV_TITLE, fontsize=14.4, ha="center", va="center")

fig.savefig("out.png", dpi=DPI)
